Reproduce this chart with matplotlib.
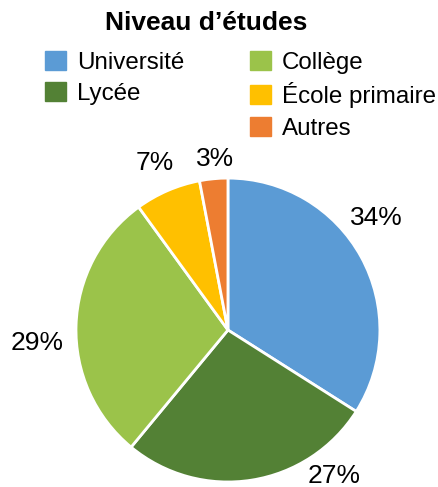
import numpy as np
import matplotlib.pyplot as plt
from matplotlib.patches import Patch

plt.rcParams['font.family'] = ['Liberation Sans', 'DejaVu Sans']

# Niveau d'études
categories = ['Université', 'Lycée', 'Collège', 'École primaire', 'Autres']
values = [34, 27, 29, 7, 3]
colors = ['#5B9BD5', '#538135', '#9BC34A', '#FFC000', '#ED7D31']

# where each percentage label sits (angle in degrees, distance in radii)
label_angles = [37, -54, 184, 113.6, 94.3]
label_dist = [1.22, 1.19, 1.26, 1.2, 1.13]

fig = plt.figure(figsize=(4.39, 4.87), dpi=100)
ax = fig.add_axes([0.173, 0.0103, 0.6925, 0.624])

wedges, texts = ax.pie(values, colors=colors, startangle=90, counterclock=False,
                       labels=[f'{v}%' for v in values], labeldistance=1.2,
                       wedgeprops=dict(edgecolor='white', linewidth=2),
                       textprops=dict(fontsize=19))
for t, a, d in zip(texts, label_angles, label_dist):
    a = np.deg2rad(a)
    t.set_position((d * np.cos(a), d * np.sin(a)))
    t.set_ha('center')
    t.set_va('center')

ax.set_xlim(-1, 1)
ax.set_ylim(-1, 1)
ax.set_aspect('equal')
ax.axis('off')

fig.text(0.47, 1 - 23 / 487, 'Niveau d’études', ha='center', va='center',
         fontsize=19, fontweight='bold')

handles = [Patch(color=c) for c in colors]
blank = Patch(color='none')
order_h = [handles[0], handles[1], blank, handles[2], handles[3], handles[4]]
order_l = [categories[0], categories[1], '', categories[2], categories[3], categories[4]]
fig.legend(order_h, order_l, ncol=2, loc='upper left',
           bbox_to_anchor=(45 / 439, 1 - 51 / 487), frameon=False,
           fontsize=17.4, handlelength=0.88, handleheight=0.83,
           handletextpad=0.45, columnspacing=2.7, labelspacing=0.35,
           borderpad=0, borderaxespad=0)

fig.savefig('out.png', dpi=100)
